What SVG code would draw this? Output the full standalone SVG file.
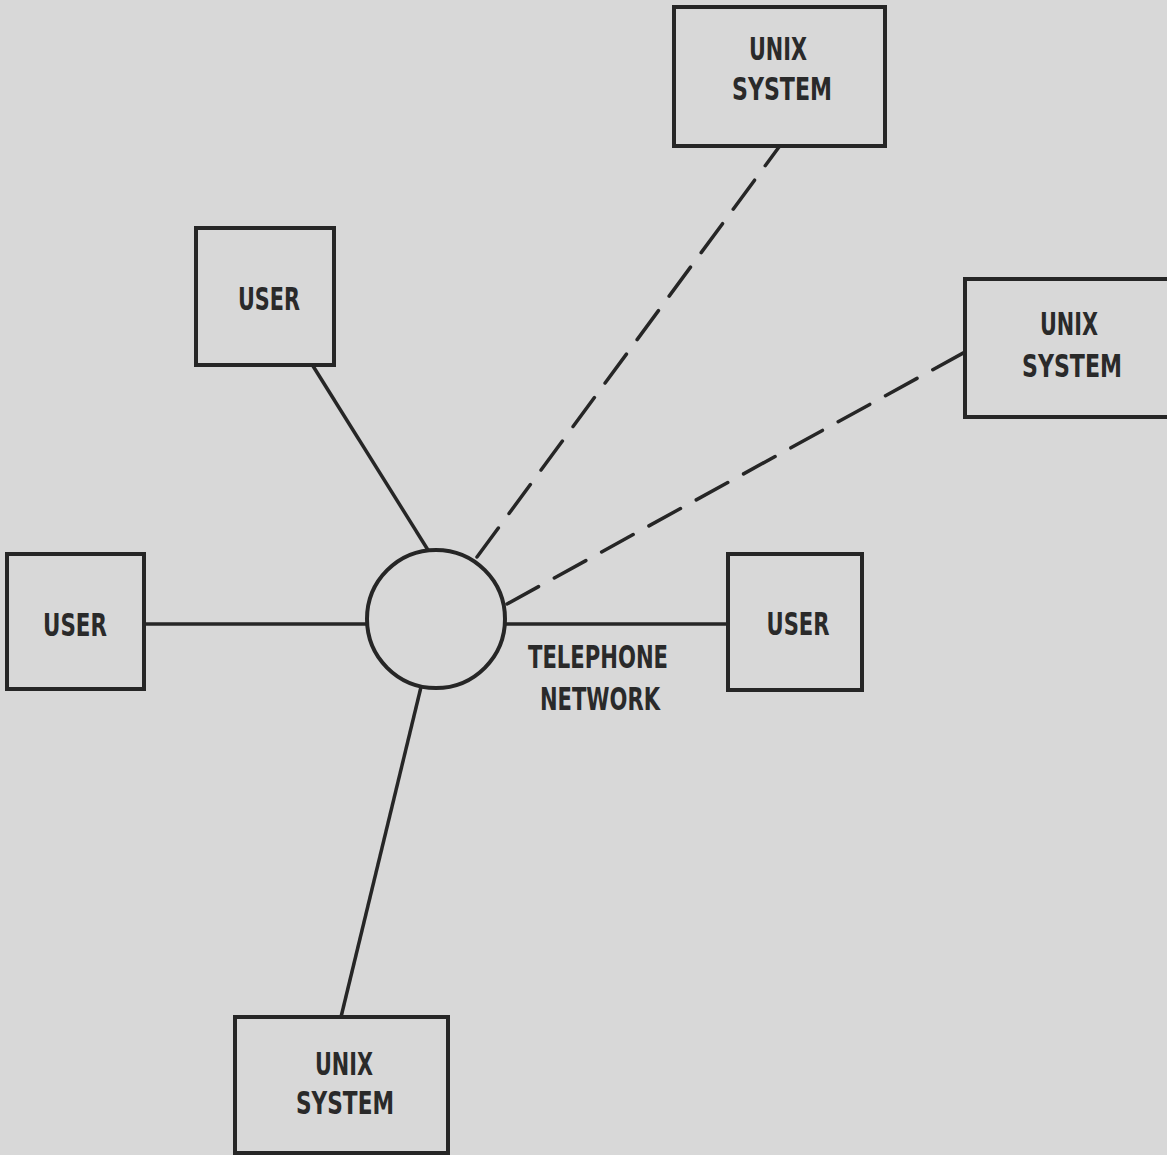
<svg xmlns="http://www.w3.org/2000/svg" width="1167" height="1155" viewBox="0 0 1167 1155">
<style>
.box{fill:none;stroke:#262626;stroke-width:4}
.ln{stroke:#262626;stroke-width:3.5;fill:none}
.dash{stroke:#262626;stroke-width:3.5;fill:none;stroke-dasharray:36 18;stroke-linecap:round}
text{font-family:"Liberation Sans Narrow","DejaVu Sans Condensed","Liberation Sans",sans-serif;font-weight:bold;font-size:32px;fill:#2a2a2a;text-anchor:middle}
</style>
<rect width="1167" height="1155" fill="#d8d8d8"/>
<g id="connectors">
<line class="ln" x1="313" y1="366" x2="428" y2="550"/>
<line class="ln" x1="144" y1="624" x2="367" y2="624"/>
<line class="ln" x1="505" y1="624" x2="728" y2="624"/>
<line class="ln" x1="421" y1="687" x2="341" y2="1017"/>
<line class="dash" x1="477" y1="557" x2="779" y2="147"/>
<line class="dash" x1="507" y1="604" x2="965" y2="352"/>
</g>
<g id="telephone-network">
<circle class="box" cx="436" cy="619" r="69"/>
<text x="598" y="668" textLength="140" lengthAdjust="spacingAndGlyphs">TELEPHONE</text>
<text x="600" y="710" textLength="120" lengthAdjust="spacingAndGlyphs">NETWORK</text>
</g>
<g id="unix-top">
<rect class="box" x="674" y="7" width="211" height="139"/>
<text x="778" y="60" textLength="58" lengthAdjust="spacingAndGlyphs">UNIX</text>
<text x="782" y="100" textLength="100" lengthAdjust="spacingAndGlyphs">SYSTEM</text>
</g>
<g id="unix-right">
<rect class="box" x="965" y="279" width="210" height="138"/>
<text x="1069" y="335" textLength="58" lengthAdjust="spacingAndGlyphs">UNIX</text>
<text x="1072" y="377" textLength="100" lengthAdjust="spacingAndGlyphs">SYSTEM</text>
</g>
<g id="unix-bottom">
<rect class="box" x="235" y="1017" width="213" height="136"/>
<text x="344" y="1075" textLength="58" lengthAdjust="spacingAndGlyphs">UNIX</text>
<text x="345" y="1114" textLength="98" lengthAdjust="spacingAndGlyphs">SYSTEM</text>
</g>
<g id="user-top">
<rect class="box" x="196" y="228" width="138" height="137"/>
<text x="269" y="310" textLength="62" lengthAdjust="spacingAndGlyphs">USER</text>
</g>
<g id="user-left">
<rect class="box" x="7" y="554" width="137" height="135"/>
<text x="75" y="636" textLength="64" lengthAdjust="spacingAndGlyphs">USER</text>
</g>
<g id="user-right">
<rect class="box" x="728" y="554" width="134" height="136"/>
<text x="798" y="635" textLength="63" lengthAdjust="spacingAndGlyphs">USER</text>
</g>
</svg>
